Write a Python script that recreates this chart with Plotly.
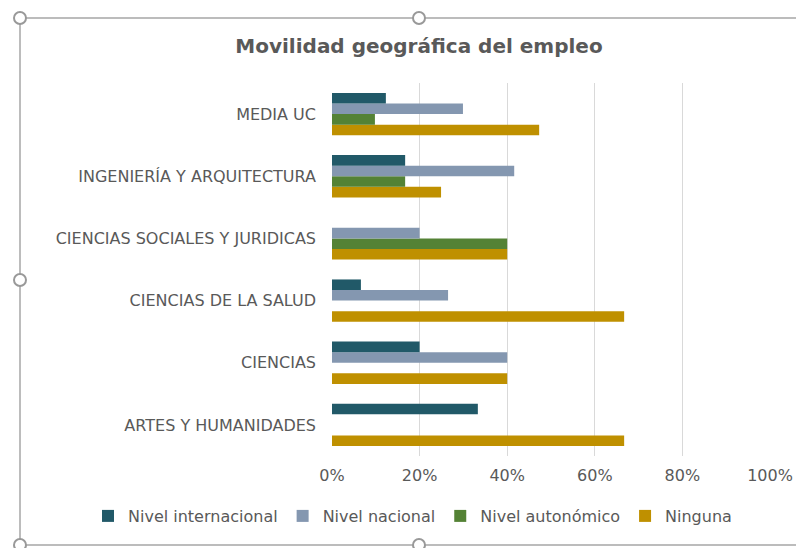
import plotly.graph_objects as go

categories = ["ARTES Y HUMANIDADES", "CIENCIAS", "CIENCIAS DE LA SALUD",
              "CIENCIAS SOCIALES Y JURIDICAS", "INGENIERÍA Y ARQUITECTURA", "MEDIA UC"]
internacional = [0.333, 0.20, 0.066, 0.0, 0.167, 0.123]
nacional = [0.0, 0.40, 0.265, 0.20, 0.416, 0.299]
autonomico = [0.0, 0.0, 0.0, 0.40, 0.167, 0.098]
ninguna = [0.667, 0.40, 0.667, 0.40, 0.249, 0.473]
series_names = ["Nivel internacional", "Nivel nacional", "Nivel autonómico", "Ninguna"]
colors = ["#215968", "#8497B0", "#548235", "#BF9000"]
x_ticks = [0, 0.2, 0.4, 0.6, 0.8, 1.0]
x_tick_labels = ["0%", "20%", "40%", "60%", "80%", "100%"]

OFF = 8  # page body margin
W, H = 804 - 2 * OFF, 548 - OFF
L = 332 - OFF
T = 83 - OFF
R = W - (770 - OFF)
B = H - (456 - OFF)
FONT = "DejaVu Sans"
GREY = "#595959"

fig = go.Figure()
values = [internacional, nacional, autonomico, ninguna]
for name, vals, col in reversed(list(zip(series_names, values, colors))):
    fig.add_trace(go.Bar(y=categories, x=vals, name=name, orientation="h",
                         marker=dict(color=col, line=dict(width=0))))

pw = W - L - R
ph = H - T - B
def px2x(px):
    return (px - OFF - L) / pw
def py2y(py):
    return (H - B - (py - OFF)) / ph

shapes = []
fc = "#A6A6A6"
shapes.append(dict(type="line", xref="paper", yref="paper", x0=px2x(20), x1=px2x(820),
                   y0=py2y(18), y1=py2y(18), line=dict(color=fc, width=1.5)))
shapes.append(dict(type="line", xref="paper", yref="paper", x0=px2x(20), x1=px2x(820),
                   y0=py2y(545), y1=py2y(545), line=dict(color=fc, width=1.5)))
shapes.append(dict(type="line", xref="paper", yref="paper", x0=px2x(20), x1=px2x(20),
                   y0=py2y(18), y1=py2y(545), line=dict(color=fc, width=1.5)))
for cx, cy in [(20, 18), (419, 18), (20, 280), (20, 545), (419, 545)]:
    r = 6
    shapes.append(dict(type="circle", xref="paper", yref="paper",
                       x0=px2x(cx - r), x1=px2x(cx + r), y0=py2y(cy + r), y1=py2y(cy - r),
                       fillcolor="white", line=dict(color="#999999", width=2)))

fig.update_layout(
    width=W, height=H,
    margin=dict(l=L, r=R, t=T, b=B, autoexpand=False),
    paper_bgcolor="white", plot_bgcolor="white",
    barmode="group", bargap=0.32, bargroupgap=0,
    font=dict(family=FONT, color=GREY, size=16),
    title=dict(text="<b>Movilidad geográfica del empleo</b>", x=(419 - OFF) / W, xanchor="center",
               y=1 - (46 - OFF) / H, yanchor="middle", font=dict(size=20, color=GREY, family=FONT)),
    xaxis=dict(range=[0, 1.0], tickvals=x_ticks, ticktext=x_tick_labels,
               showgrid=True, gridcolor="#D9D9D9", gridwidth=1, zeroline=False,
               showline=False, ticks="", tickfont=dict(size=16, color=GREY), ticklabelstandoff=8),
    yaxis=dict(categoryorder="array", categoryarray=categories, showgrid=False,
               ticks="", showline=False, tickfont=dict(size=16, color=GREY), ticklabelstandoff=15),
    legend=dict(orientation="h", traceorder="reversed", x=px2x(88), xanchor="left",
                xref="paper", yref="paper", y=py2y(516), yanchor="middle",
                font=dict(size=16, color=GREY), bgcolor="rgba(0,0,0,0)"),
    shapes=shapes,
    showlegend=True,
)
fig.write_html("out.html")
